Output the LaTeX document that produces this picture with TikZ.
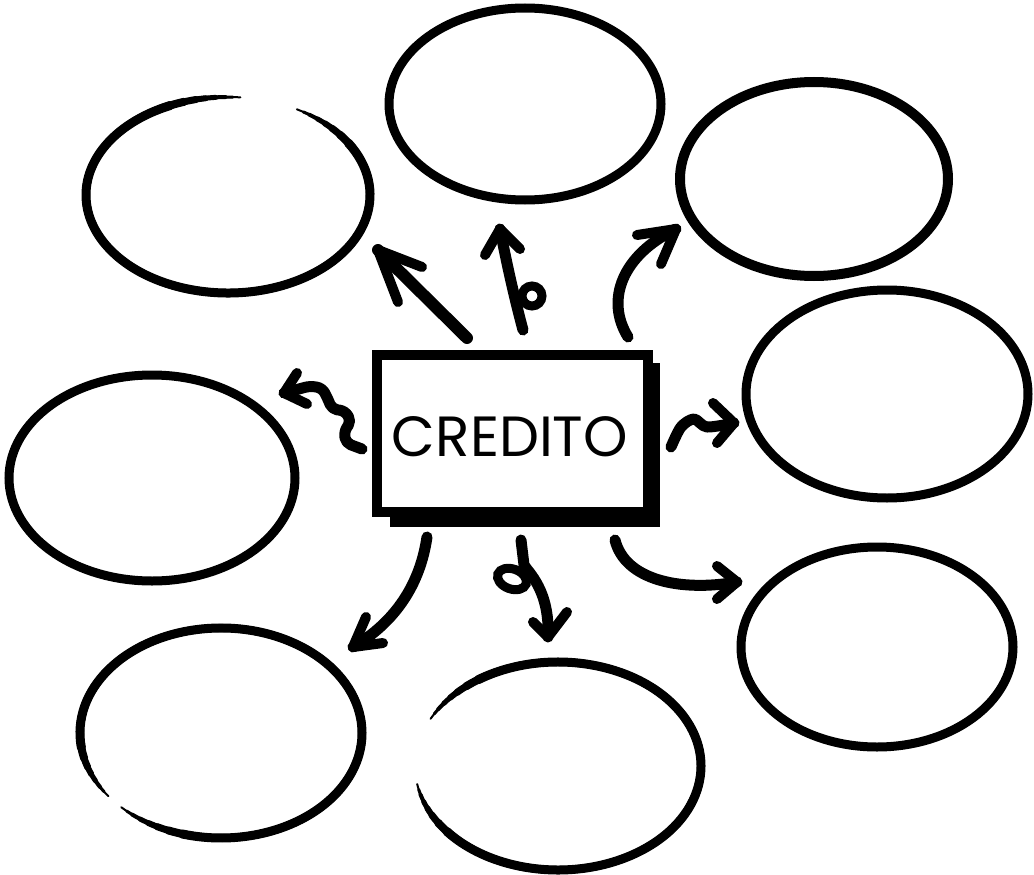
\documentclass[tikz,border=0pt]{standalone}
\usepackage{fontspec}
\usepackage{graphicx}
\newfontfamily\credfont{Poppins}
\newcommand\gaparc[5]{%
  \foreach \w/\o in {2/0,3/3,4/6,5/10,6/14,7/18,8/23,9/29}{%
    \draw[line width=\w pt,line cap=round] ([shift={(#4+\o:#2 and #3)}]#1) arc[start angle=#4+\o, end angle=#5-\o, x radius=#2, y radius=#3];
  }%
}
\begin{document}
\begin{tikzpicture}[x=1pt,y=-1pt,
  ring/.style={line width=9pt},
  conn/.style={line width=11pt, line cap=round, line join=round},
  head/.style={line width=10pt, line cap=round, line join=round}]
\useasboundingbox[fill=white] (0,0) rectangle (1034,875);

% ellipse centres
\coordinate (e1) at (228,195);
\coordinate (e2) at (525,104);
\coordinate (e3) at (814,179);
\coordinate (e4) at (887,394);
\coordinate (e5) at (152,478);
\coordinate (e6) at (877,647);
\coordinate (e7) at (221,733);
\coordinate (e8) at (558,766);

% ellipses
\gaparc{e1}{142}{98}{-61}{275}
\draw[ring] (e2) ellipse [x radius=136, y radius=96];
\draw[ring, line width=10pt] (e3) ellipse [x radius=134, y radius=97];
\draw[ring] (e4) ellipse [x radius=141, y radius=104];
\draw[ring] (e5) ellipse [x radius=143, y radius=103];
\draw[ring] (e6) ellipse [x radius=136, y radius=100];
\gaparc{e7}{141}{105}{143}{495}
\gaparc{e8}{143}{104}{207}{530}

% central box with shadow
\fill[black] (390,363) rectangle (660,527);
\node[draw, line width=10pt, fill=white, minimum width=271pt, minimum height=157.5pt, inner sep=0pt] (box) at (512.5,433.25) {};
\node[inner sep=0pt] (label) at (510,437) {\resizebox{236pt}{40pt}{\credfont CREDITO}};

% connector end points
\coordinate (a1s) at (467,338); \coordinate (a1t) at (378,250);
\coordinate (a2s) at (523,330); \coordinate (a2t) at (500,229);
\coordinate (a3s) at (628,337); \coordinate (a3t) at (676,229);
\coordinate (a4s) at (362,449); \coordinate (a4t) at (284,393);
\coordinate (a5s) at (671,447); \coordinate (a5t) at (734,423);
\coordinate (a6s) at (615,540); \coordinate (a6t) at (737,582);
\coordinate (a7s) at (521,540); \coordinate (a7t) at (548,637);
\coordinate (a8s) at (427,537); \coordinate (a8t) at (353,647);

% NW
\draw[conn, line width=12pt] (a1s) -- (a1t);
\draw[head] (422,267) -- (a1t) -- (398,302);
% N with loop
\draw[conn] (a2s) .. controls (515,300) and (508,270) .. (a2t);
\draw[line width=9pt] (532,296) circle[radius=10];
\draw[head] (485,255) -- (a2t) -- (520,249);
% NE
\draw[conn] (a3s) .. controls (605,300) and (622,255) .. (a3t);
\draw[head] (637,235) -- (a3t) -- (661,264);
% W zigzag
\draw[conn, rounded corners=5pt] (a4s) -- (346,443) -- (344,432) -- (351,421) -- (345,411) -- (332,409) -- (327,397) -- (322,388) -- (310,386) -- (a4t);
\draw[head] (297,373) -- (a4t) -- (307,404);
% E squiggle
\draw[conn] plot[smooth] coordinates {(671,447) (681,427) (694,419) (707,427) (734,423)};
\draw[head] (713,403) -- (a5t) -- (717,443);
% SE
\draw[conn] (a6s) .. controls (625,580) and (680,592) .. (a6t);
\draw[head] (717,566) -- (a6t) -- (717,599);
% S with loop
\draw[conn] (a7s) -- (524,565) .. controls (528,572) and (550,590) .. (a7t);
\draw[line width=9pt, rotate around={-20:(512,579)}] (512,579) ellipse [x radius=15, y radius=10];
\draw[head] (533,622) -- (a7t) -- (567,612);
% SW
\draw[conn] (a8s) .. controls (420,585) and (395,622) .. (a8t);
\draw[head] (366,617) -- (a8t) -- (383,643);
\end{tikzpicture}
\end{document}
